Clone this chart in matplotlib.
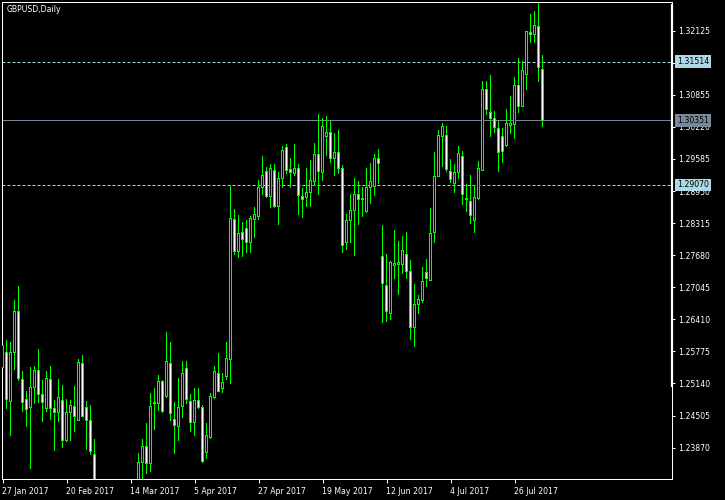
import matplotlib
matplotlib.use('Agg')
import matplotlib.pyplot as plt
from matplotlib.lines import Line2D

# GBPUSD daily bars, 27 Jan 2017 .. 4 Aug 2017
opens = [1.2545, 1.2576, 1.2479, 1.2576, 1.2656, 1.2521, 1.2483, 1.2467, 1.2506, 1.2539,
         1.2493, 1.2465, 1.2521, 1.2465, 1.2457, 1.2481, 1.2401, 1.2457, 1.2469, 1.2441,
         1.2553, 1.2467, 1.2441, 1.2374, 1.2290, 1.2305, 1.2255, 1.2240, 1.2190, 1.2160,
         1.2180, 1.2225, 1.2190, 1.2130, 1.2285, 1.2357, 1.2390, 1.2356, 1.2474, 1.2475,
         1.2517, 1.2488, 1.2553, 1.2443, 1.2428, 1.2468, 1.2543, 1.2479, 1.2437, 1.2481,
         1.2467, 1.2377, 1.2407, 1.2487, 1.2533, 1.2505, 1.2527, 1.2561, 1.2838, 1.2775,
         1.2812, 1.2821, 1.2793, 1.2838, 1.2844, 1.2902, 1.2933, 1.2884, 1.2935, 1.2864,
         1.2920, 1.2982, 1.2937, 1.2930, 1.2939, 1.2885, 1.2882, 1.2892, 1.2914, 1.2968,
         1.2931, 1.3003, 1.3010, 1.2959, 1.2972, 1.2939, 1.2793, 1.2836, 1.2857, 1.2889,
         1.2878, 1.2854, 1.2903, 1.2905, 1.2960, 1.2766, 1.2708, 1.2652, 1.2747, 1.2749,
         1.2749, 1.2770, 1.2736, 1.2625, 1.2671, 1.2679, 1.2734, 1.2718, 1.2813, 1.2924,
         1.3003, 1.3004, 1.2934, 1.2910, 1.2932, 1.2964, 1.2879, 1.2875, 1.2837, 1.2880,
         1.2936, 1.3097, 1.3051, 1.3039, 1.3019, 1.3003, 1.2985, 1.3025, 1.3027, 1.3104,
         1.3062, 1.3126, 1.3209, 1.3205, 1.3221, 1.3136]
highs = [1.2600, 1.2600, 1.2596, 1.2679, 1.2707, 1.2539, 1.2499, 1.2546, 1.2549, 1.2582,
         1.2521, 1.2539, 1.2549, 1.2481, 1.2523, 1.2511, 1.2483, 1.2481, 1.2509, 1.2563,
         1.2570, 1.2479, 1.2471, 1.2404, 1.2318, 1.2320, 1.2290, 1.2260, 1.2215, 1.2200,
         1.2240, 1.2250, 1.2210, 1.2300, 1.2377, 1.2404, 1.2436, 1.2495, 1.2505, 1.2531,
         1.2521, 1.2616, 1.2596, 1.2477, 1.2525, 1.2559, 1.2559, 1.2494, 1.2505, 1.2505,
         1.2471, 1.2435, 1.2495, 1.2549, 1.2574, 1.2535, 1.2596, 1.2905, 1.2859, 1.2848,
         1.2834, 1.2838, 1.2846, 1.2863, 1.2917, 1.2964, 1.2943, 1.2948, 1.2949, 1.2933,
         1.2984, 1.2988, 1.2960, 1.2988, 1.2949, 1.2902, 1.2941, 1.2957, 1.2990, 1.3048,
         1.3040, 1.3044, 1.3034, 1.3010, 1.3016, 1.2947, 1.2850, 1.2889, 1.2921, 1.2915,
         1.2903, 1.2941, 1.2951, 1.2968, 1.2978, 1.2828, 1.2770, 1.2756, 1.2818, 1.2796,
         1.2806, 1.2814, 1.2759, 1.2711, 1.2690, 1.2745, 1.2760, 1.2862, 1.2972, 1.3016,
         1.3030, 1.3024, 1.2958, 1.2949, 1.2984, 1.2974, 1.2908, 1.2926, 1.2906, 1.2954,
         1.3113, 1.3113, 1.3125, 1.3053, 1.3033, 1.3019, 1.3057, 1.3083, 1.3120, 1.3158,
         1.3152, 1.3212, 1.3245, 1.3251, 1.3267, 1.3164]
lows = [1.2537, 1.2464, 1.2411, 1.2541, 1.2518, 1.2458, 1.2427, 1.2345, 1.2474, 1.2475,
        1.2438, 1.2458, 1.2442, 1.2381, 1.2438, 1.2387, 1.2399, 1.2401, 1.2417, 1.2439,
        1.2447, 1.2383, 1.2373, 1.2280, 1.2250, 1.2240, 1.2220, 1.2170, 1.2135, 1.2130,
        1.2150, 1.2180, 1.2110, 1.2120, 1.2270, 1.2310, 1.2335, 1.2339, 1.2421, 1.2460,
        1.2456, 1.2486, 1.2440, 1.2375, 1.2401, 1.2446, 1.2473, 1.2417, 1.2410, 1.2463,
        1.2357, 1.2365, 1.2405, 1.2484, 1.2497, 1.2495, 1.2521, 1.2513, 1.2769, 1.2762,
        1.2765, 1.2772, 1.2773, 1.2803, 1.2838, 1.2887, 1.2882, 1.2862, 1.2862, 1.2828,
        1.2901, 1.2929, 1.2902, 1.2925, 1.2848, 1.2842, 1.2864, 1.2864, 1.2905, 1.2887,
        1.2914, 1.2964, 1.2951, 1.2925, 1.2929, 1.2773, 1.2778, 1.2793, 1.2766, 1.2828,
        1.2844, 1.2852, 1.2870, 1.2885, 1.2908, 1.2634, 1.2636, 1.2640, 1.2721, 1.2690,
        1.2731, 1.2721, 1.2601, 1.2587, 1.2652, 1.2674, 1.2706, 1.2716, 1.2793, 1.2922,
        1.2943, 1.2932, 1.2910, 1.2892, 1.2918, 1.2867, 1.2854, 1.2830, 1.2811, 1.2878,
        1.2934, 1.3046, 1.3003, 1.3009, 1.2932, 1.2951, 1.2983, 1.3007, 1.2999, 1.3050,
        1.3061, 1.3096, 1.3189, 1.3189, 1.3111, 1.3022]
closes = [1.2590, 1.2483, 1.2576, 1.2656, 1.2523, 1.2477, 1.2463, 1.2506, 1.2539, 1.2493,
          1.2477, 1.2523, 1.2465, 1.2457, 1.2487, 1.2401, 1.2457, 1.2471, 1.2449, 1.2555,
          1.2449, 1.2441, 1.2379, 1.2290, 1.2305, 1.2255, 1.2240, 1.2190, 1.2160, 1.2180,
          1.2225, 1.2190, 1.2130, 1.2285, 1.2358, 1.2390, 1.2356, 1.2469, 1.2477, 1.2517,
          1.2458, 1.2557, 1.2454, 1.2430, 1.2467, 1.2534, 1.2483, 1.2437, 1.2481, 1.2467,
          1.2359, 1.2411, 1.2489, 1.2537, 1.2499, 1.2516, 1.2563, 1.2840, 1.2775, 1.2811,
          1.2799, 1.2793, 1.2840, 1.2848, 1.2902, 1.2925, 1.2884, 1.2939, 1.2864, 1.2920,
          1.2976, 1.2935, 1.2931, 1.2939, 1.2886, 1.2878, 1.2893, 1.2915, 1.2968, 1.2933,
          1.3022, 1.3010, 1.2959, 1.2972, 1.2939, 1.2787, 1.2837, 1.2857, 1.2889, 1.2878,
          1.2881, 1.2903, 1.2913, 1.2960, 1.2949, 1.2712, 1.2656, 1.2753, 1.2751, 1.2753,
          1.2778, 1.2735, 1.2625, 1.2671, 1.2681, 1.2716, 1.2722, 1.2811, 1.2924, 1.3004,
          1.3022, 1.2938, 1.2918, 1.2932, 1.2970, 1.2889, 1.2881, 1.2847, 1.2883, 1.2940,
          1.3097, 1.3057, 1.3039, 1.3021, 1.2972, 1.2974, 1.3029, 1.3029, 1.3104, 1.3063,
          1.3134, 1.3211, 1.3205, 1.3223, 1.3139, 1.30351]

date_labels = ['27 Jan 2017', '20 Feb 2017', '14 Mar 2017', '5 Apr 2017', '27 Apr 2017',
               '19 May 2017', '12 Jun 2017', '4 Jul 2017', '26 Jul 2017']
label_bars = [0, 16, 32, 48, 64, 80, 96, 112, 128]

price_ticks = [1.23870, 1.24505, 1.25140, 1.25775, 1.26410, 1.27045, 1.27680,
               1.28315, 1.28950, 1.29585, 1.30220, 1.30855, 1.31490, 1.32125]

level_upper = 1.31514
level_bid = 1.30351
level_lower = 1.29070

W, H = 725, 500
GREEN = '#00ff00'
PX = 0.72  # one pixel in points at 100 dpi
YMIN, YMAX = 1.23249, 1.32693
ONE_PX = (YMAX - YMIN) / 477  # price height of one pixel

fig = plt.figure(figsize=(W / 100, H / 100), dpi=100, facecolor='black')
ax = fig.add_axes([2 / W, 21 / H, 670 / W, 477 / H], facecolor='black')

idx = list(range(len(opens)))

# wicks, drawn as 1px wide filled bars
ax.bar(idx, [h - l for h, l in zip(highs, lows)], width=0.2, bottom=lows,
       color=GREEN, linewidth=0, antialiased=False, zorder=2)

# bodies: green 3px box, 1px inner fill (bull = black, bear = white)
bottoms = [min(o, c) for o, c in zip(opens, closes)]
heights = [abs(c - o) for o, c in zip(opens, closes)]
ax.bar(idx, [h + ONE_PX for h in heights], width=0.7,
       bottom=[b - ONE_PX / 2 for b in bottoms], color=GREEN, linewidth=0,
       antialiased=False, zorder=3)
inner = [(i, b + ONE_PX / 2, h - ONE_PX, 'white' if c < o else 'black')
         for i, b, h, o, c in zip(idx, bottoms, heights, opens, closes) if h > 1.5 * ONE_PX]
ax.bar([t[0] for t in inner], [t[2] for t in inner], width=0.2,
       bottom=[t[1] for t in inner], color=[t[3] for t in inner], linewidth=0,
       antialiased=False, zorder=4)

# price levels
ax.axhline(level_upper, color='#add8e6', lw=PX, linestyle=(0, (3, 2)), zorder=1)
ax.axhline(level_lower, color='#add8e6', lw=PX, linestyle=(0, (3, 2)), zorder=1)
ax.axhline(level_bid, color='#778899', lw=PX, zorder=1)

ax.set_xlim((2 - 2.5) / 4, (672 - 2.5) / 4)
ax.set_ylim(YMIN, YMAX)

for s in ax.spines.values():
    s.set_color('white')
    s.set_linewidth(PX)

ax.yaxis.tick_right()
ax.set_yticks(price_ticks)
# 1.31490 sits fully under the 1.31514 price box
ax.set_yticklabels(['' if abs(v - 1.31490) < 1e-6 else f'{v:.5f}' for v in price_ticks])
ax.tick_params(axis='y', colors='white', labelsize=5.6, length=2, width=PX, pad=2.2)

ax.set_xticks(label_bars)
ax.set_xticklabels(date_labels, ha='left')
ax.tick_params(axis='x', colors='white', labelsize=5.6, length=3, width=PX, pad=2.5)

for level, bg in [(level_upper, '#add8e6'), (level_bid, '#778899'), (level_lower, '#add8e6')]:
    ax.annotate(f'{level:.5f}', xy=(1, level), xycoords=ax.get_yaxis_transform(),
                xytext=(5, 0), textcoords='offset pixels', ha='left', va='center',
                fontsize=5.6, color='black', annotation_clip=False, zorder=6,
                bbox=dict(boxstyle='square,pad=0.25', fc=bg, ec='none'))

# thicker part of the price scale line
fig.add_artist(Line2D([672 / W, 672 / W], [1 - 5 / H, 1 - 386 / H], color='white', lw=1.6))

fig.text(7 / W, 1 - 10 / H, 'GBPUSD,Daily', color='white', fontsize=5.6,
         ha='left', va='center')

fig.savefig('out.png', dpi=100, facecolor='black')
